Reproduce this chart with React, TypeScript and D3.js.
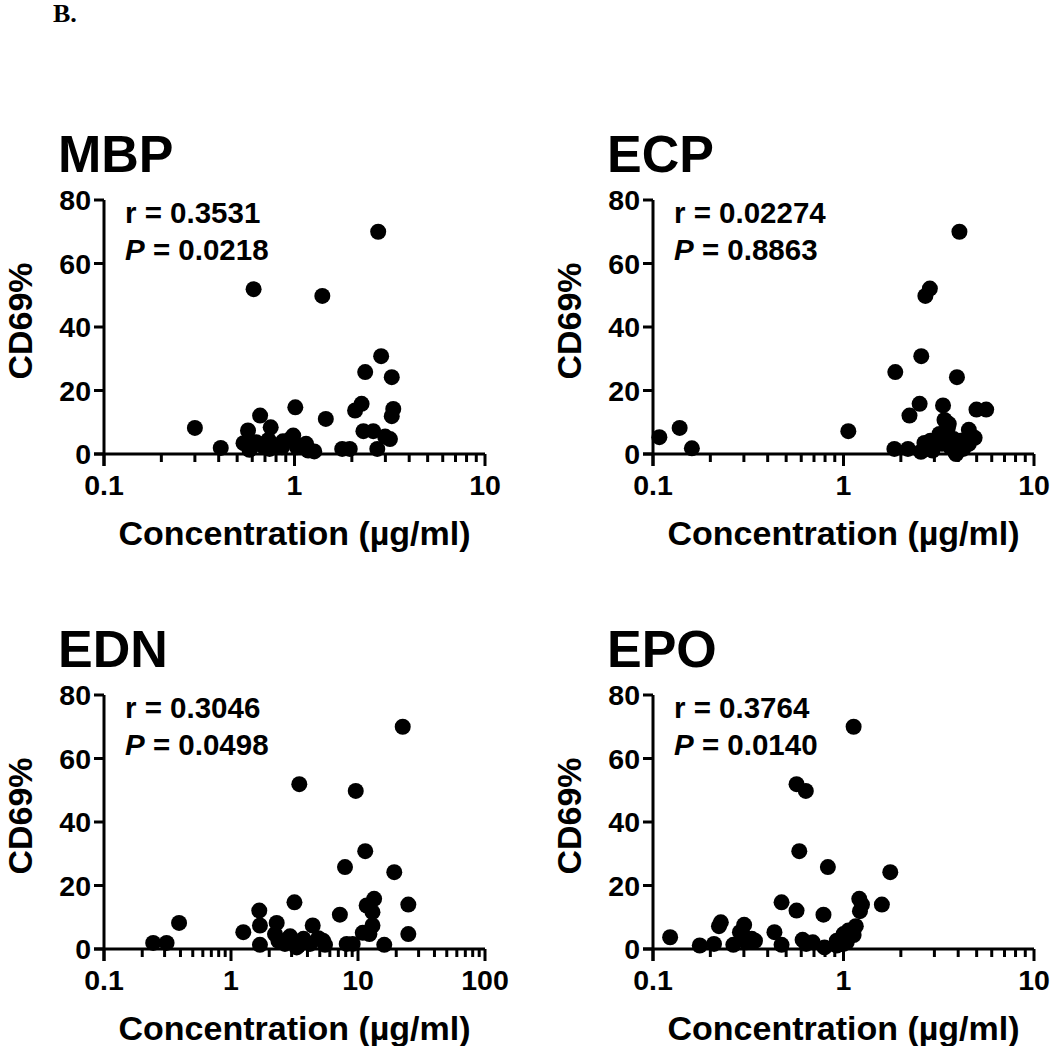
import React from "react";
import * as d3 from "d3";

// ---------- DATA ----------
const mbpConc = [2.75, 0.61, 1.4, 2.85, 2.35, 3.24, 2.25, 2.08, 3.3, 3.24, 1.01, 0.66, 1.46, 0.3, 0.75, 0.57, 2.3, 2.59, 2.99, 3.17, 0.985, 0.54, 0.63, 0.73, 0.87, 0.95, 1.15, 0.41, 0.58, 0.74, 0.86, 1.03, 1.27, 1.78, 1.95, 2.72, 0.69, 0.81, 1.09, 1.18, 0.6];
const mbpCD69 = [70, 51.9, 49.8, 30.8, 25.8, 24.2, 15.8, 13.7, 14.2, 11.9, 14.7, 12.1, 11.05, 8.2, 8.4, 7.4, 7.2, 7.2, 5.5, 4.7, 5.8, 3.4, 3.7, 4.4, 4.0, 4.7, 3.2, 1.9, 1.3, 1.6, 2.1, 2.1, 0.8, 1.6, 1.6, 1.6, 2.3, 2.6, 2.6, 1.1, 2.6];

const ecpConc = [4.06, 2.84, 2.69, 2.56, 1.87, 3.94, 2.51, 2.22, 3.33, 3.39, 4.99, 5.61, 3.53, 4.55, 4.88, 1.06, 0.138, 0.108, 0.16, 1.85, 2.18, 2.55, 2.66, 2.86, 3.13, 3.5, 3.79, 4.11, 3.87, 4.25, 3.0, 3.29, 3.64, 4.03, 3.43, 3.67, 2.75, 3.19, 3.57, 3.9, 4.55, 2.93];
const ecpCD69 = [70, 52.1, 49.8, 30.8, 25.8, 24.2, 15.8, 12.1, 15.3, 10.7, 14.0, 14.0, 8.2, 7.6, 5.1, 7.2, 8.2, 5.3, 1.8, 1.6, 1.6, 0.7, 3.5, 4.2, 4.7, 5.8, 4.7, 4.2, 0.5, 1.6, 2.6, 3.2, 2.1, 2.3, 4.2, 3.2, 2.1, 6.3, 9.5, 0.0, 3.2, 1.1];

const ednConc = [22.5, 3.45, 9.6, 11.4, 7.9, 19.3, 3.16, 13.4, 11.7, 13.0, 24.9, 1.67, 7.2, 0.39, 1.69, 2.29, 4.4, 13.0, 10.9, 12.3, 24.9, 1.25, 2.22, 2.92, 3.72, 4.87, 2.36, 0.244, 0.311, 1.69, 2.66, 3.39, 4.19, 5.5, 8.15, 9.08, 16.1, 5.3, 2.82, 3.29];
const ednCD69 = [70, 51.9, 49.8, 30.8, 25.8, 24.2, 14.7, 15.8, 13.7, 11.6, 14.0, 12.1, 10.8, 8.2, 7.4, 8.2, 7.4, 7.4, 5.1, 4.7, 4.7, 5.3, 4.7, 4.0, 3.2, 3.4, 2.6, 1.9, 1.9, 1.3, 1.6, 1.1, 1.6, 1.3, 1.6, 1.6, 1.3, 2.6, 3.2, 0.5];

const epoConc = [1.13, 0.567, 0.634, 0.586, 0.828, 1.76, 0.473, 0.567, 0.785, 1.21, 1.25, 1.22, 1.59, 0.227, 0.222, 0.301, 0.123, 0.176, 0.209, 0.264, 0.298, 0.33, 0.343, 0.434, 0.473, 0.61, 0.637, 0.69, 0.795, 0.922, 1.0, 1.06, 1.16, 1.13, 1.0, 1.04, 0.286, 0.922, 0.31];
const epoCD69 = [70, 51.9, 49.8, 30.8, 25.8, 24.2, 14.7, 12.1, 10.8, 15.8, 14.0, 11.9, 14.0, 8.4, 7.2, 7.6, 3.7, 1.1, 1.6, 1.3, 4.2, 3.2, 2.6, 5.3, 1.3, 2.9, 1.6, 2.1, 0.5, 2.6, 4.7, 5.8, 7.2, 4.4, 1.6, 2.1, 5.3, 1.1, 2.1];

const panelTitles = ["MBP", "ECP", "EDN", "EPO"];
const rValues = ["0.3531", "0.02274", "0.3046", "0.3764"];
const pValues = ["0.0218", "0.8863", "0.0498", "0.0140"];
const xMaxes = [10, 10, 100, 10];
const yTicks = [0, 20, 40, 60, 80];
const yLabel = "CD69%";
const xLabel = "Concentration (\u00b5g/ml)";
const figLetter = "B.";

const concs = [mbpConc, ecpConc, ednConc, epoConc];
const cd69s = [mbpCD69, ecpCD69, ednCD69, epoCD69];

// ---------- LAYOUT ----------
const W = 1050;
const H = 1046;
const FONT = "'Liberation Sans', Arial, Helvetica, sans-serif";
const colStep = 549;
const rowStep = 495;
const axLeft = 104;
const axRight = 485;
const axTop = 200;
const axBottom = 454;
const SW = 3;

function Panel({ idx }: { idx: number }) {
  const col = idx % 2;
  const row = Math.floor(idx / 2);
  const ox = col * colStep;
  const oy = row * rowStep;
  const x0 = axLeft + ox;
  const x1 = axRight + ox;
  const yTop = axTop + oy;
  const yBot = axBottom + oy;

  const xs = d3.scaleLog().domain([0.1, xMaxes[idx]]).range([x0, x1]);
  const ys = d3.scaleLinear().domain([0, 80]).range([yBot, yTop]);

  const decades: number[] = [];
  for (let d = 0.1; d <= xMaxes[idx] * 1.0001; d *= 10) decades.push(+d.toPrecision(3));
  const minors: number[] = [];
  decades.slice(0, -1).forEach((d) => {
    for (let k = 2; k <= 9; k++) minors.push(d * k);
  });

  const pts = concs[idx].map((c, i) => ({ c, v: cd69s[idx][i] }));

  return (
    <g>
      <text x={x0 - 46} y={172 + oy} fontFamily={FONT} fontWeight="bold" fontSize={52} fill="#000">
        {panelTitles[idx]}
      </text>
      <text
        transform={`translate(${x0 - 72},${(yTop + yBot) / 2 - 6}) rotate(-90)`}
        textAnchor="middle"
        fontFamily={FONT}
        fontWeight="bold"
        fontSize={34}
        fill="#000"
      >
        {yLabel}
      </text>
      <text
        x={(x0 + x1) / 2}
        y={yBot + 91}
        textAnchor="middle"
        fontFamily={FONT}
        fontWeight="bold"
        fontSize={34}
        fill="#000"
      >
        {xLabel}
      </text>
      <line x1={x0} x2={x0} y1={yTop} y2={yBot + 12} stroke="#000" strokeWidth={SW} />
      <line x1={x0 - 10} x2={x1} y1={yBot} y2={yBot} stroke="#000" strokeWidth={SW} />
      {yTicks.map((t) => (
        <g key={"y" + t}>
          <line x1={x0 - 10} x2={x0} y1={ys(t)} y2={ys(t)} stroke="#000" strokeWidth={SW} />
          <text
            x={x0 - 13}
            y={ys(t)}
            dy="0.36em"
            textAnchor="end"
            fontFamily={FONT}
            fontWeight="bold"
            fontSize={28.5}
            fill="#000"
          >
            {t}
          </text>
        </g>
      ))}
      {decades.map((d) => (
        <g key={"xd" + d}>
          <line x1={xs(d)} x2={xs(d)} y1={yBot} y2={yBot + 12} stroke="#000" strokeWidth={SW} />
          <text
            x={xs(d)}
            y={yBot + 41}
            textAnchor="middle"
            fontFamily={FONT}
            fontWeight="bold"
            fontSize={28.5}
            fill="#000"
          >
            {String(d)}
          </text>
        </g>
      ))}
      {minors.map((m, i) => (
        <line key={"xm" + i} x1={xs(m)} x2={xs(m)} y1={yBot} y2={yBot + 8} stroke="#000" strokeWidth={SW} />
      ))}
      <text x={x0 + 21} y={yTop + 23} fontFamily={FONT} fontWeight="bold" fontSize={29.5} fill="#000">
        {"r = " + rValues[idx]}
      </text>
      <text x={x0 + 21} y={yTop + 60} fontFamily={FONT} fontWeight="bold" fontSize={29.5} fill="#000">
        <tspan fontStyle="italic">P</tspan>
        {" = " + pValues[idx]}
      </text>
      {pts.map((p, i) => (
        <circle key={i} cx={xs(p.c)} cy={ys(p.v)} r={8} fill="#000" />
      ))}
    </g>
  );
}

export default function App() {
  return (
    <svg
      width={W}
      height={H}
      viewBox={`0 0 ${W} ${H}`}
      style={{ position: "absolute", left: 0, top: 0, background: "#fff" }}
    >
      <rect width={W} height={H} fill="#fff" />
      <text x={53} y={22} fontFamily="'Liberation Serif', 'Times New Roman', serif" fontWeight="bold" fontSize={26} fill="#000">
        {figLetter}
      </text>
      {[0, 1, 2, 3].map((i) => (
        <Panel key={i} idx={i} />
      ))}
    </svg>
  );
}
